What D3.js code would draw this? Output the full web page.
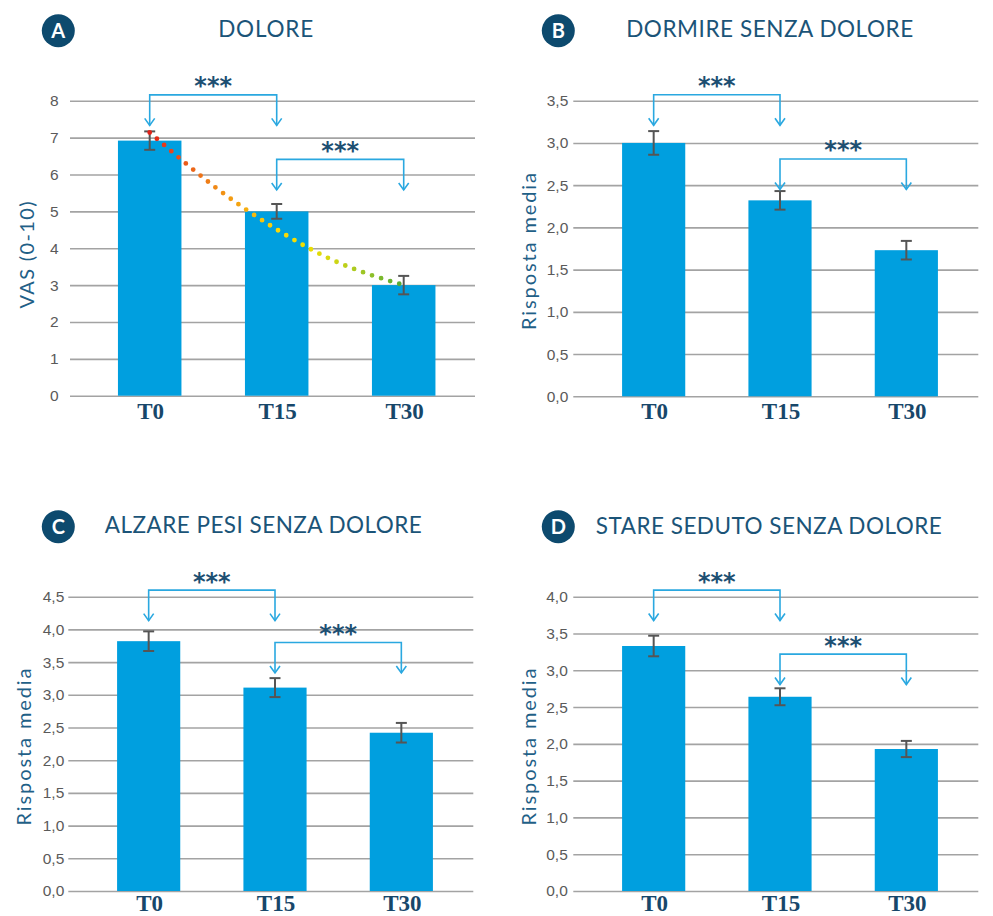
<!DOCTYPE html>
<html><head><meta charset="utf-8">
<script src="https://cdn.jsdelivr.net/npm/d3@7"></script>
<style>html,body{margin:0;padding:0;background:#fff;} svg{display:block}</style>
</head><body>
<svg id="chart" width="993" height="916"></svg>
<script>
// ---------- DATA ----------
const categories = ["T0", "T15", "T30"];

const painMeans   = [6.92, 5.00, 3.00];
const painErrors  = [0.25, 0.20, 0.25];
const sleepMeans  = [3.00, 2.32, 1.73];
const sleepErrors = [0.14, 0.11, 0.11];
const liftMeans   = [3.82, 3.11, 2.42];
const liftErrors  = [0.15, 0.145, 0.15];
const sitMeans    = [3.33, 2.64, 1.93];
const sitErrors   = [0.14, 0.115, 0.11];

const painTicks = [0, 1, 2, 3, 4, 5, 6, 7, 8];
const painTickLabels = ["0", "1", "2", "3", "4", "5", "6", "7", "8"];
const sleepTicks = [0, 0.5, 1, 1.5, 2, 2.5, 3, 3.5];
const sleepTickLabels = ["0,0", "0,5", "1,0", "1,5", "2,0", "2,5", "3,0", "3,5"];
const liftTicks = [0, 0.5, 1, 1.5, 2, 2.5, 3, 3.5, 4, 4.5];
const liftTickLabels = ["0,0", "0,5", "1,0", "1,5", "2,0", "2,5", "3,0", "3,5", "4,0", "4,5"];
const sitTicks = [0, 0.5, 1, 1.5, 2, 2.5, 3, 3.5, 4];
const sitTickLabels = ["0,0", "0,5", "1,0", "1,5", "2,0", "2,5", "3,0", "3,5", "4,0"];

// dotted trend curve of panel A (category position, VAS value)
const painTrendPositions = [0, 0.5, 1, 1.5, 2];
const painTrendValues    = [7.14, 5.70, 4.51, 3.59, 3.00];

// significance brackets (level in data units)
const painBrackets  = [{from: "T0", to: "T15", level: 8.16, label: "***"}, {from: "T15", to: "T30", level: 6.41, label: "***"}];
const sleepBrackets = [{from: "T0", to: "T15", level: 3.57, label: "***"}, {from: "T15", to: "T30", level: 2.81, label: "***"}];
const liftBrackets  = [{from: "T0", to: "T15", level: 4.60, label: "***"}, {from: "T15", to: "T30", level: 3.80, label: "***"}];
const sitBrackets   = [{from: "T0", to: "T15", level: 4.09, label: "***"}, {from: "T15", to: "T30", level: 3.22, label: "***"}];

const panelLetters = ["A", "B", "C", "D"];
const panelTitles = ["DOLORE", "DORMIRE SENZA DOLORE", "ALZARE PESI SENZA DOLORE", "STARE SEDUTO SENZA DOLORE"];
const yAxisTitles = ["VAS (0-10)", "Risposta media", "Risposta media", "Risposta media"];

// ---------- STYLE / LAYOUT ----------
const C = {
  bar: "#009fdf", err: "#555555", grid: "#a3a3a3", tick: "#5a5a5a",
  title: "#1b5478", badge: "#0d4a6e", cat: "#17476a", star: "#1d4f72",
  bracket: "#2aa8e0", axisTitle: "#1f6087"
};

const panels = [
  {means: painMeans, errors: painErrors, ticks: painTicks, tickLabels: painTickLabels, brackets: painBrackets,
   trend: true,
   grid: [70, 475], band: [86.2, 467.2], yr: [395.7, 100.8], tickPad: 11.5,
   titleX: 265.7, titleY: 37, titleW: 95, badge: [58.3, 30.7],
   yTitle: [34, 255], yTitleW: 107, catY: 418.5},
  {means: sleepMeans, errors: sleepErrors, ticks: sleepTicks, tickLabels: sleepTickLabels, brackets: sleepBrackets,
   grid: [573.3, 978.3], band: [590.5, 969.5], yr: [396.3, 100.7], tickPad: 5,
   titleX: 769.7, titleY: 36.5, titleW: 287, badge: [558.3, 30.7],
   yTitle: [536, 251.5], yTitleW: 157, catY: 418.5},
  {means: liftMeans, errors: liftErrors, ticks: liftTicks, tickLabels: liftTickLabels, brackets: liftBrackets,
   grid: [68.3, 473.3], band: [85.5, 464.5], yr: [891, 596.7], tickPad: 4,
   titleX: 263.3, titleY: 533.3, titleW: 317, badge: [58.3, 526.7],
   yTitle: [31, 747], yTitleW: 157, catY: 910.8},
  {means: sitMeans, errors: sitErrors, ticks: sitTicks, tickLabels: sitTickLabels, brackets: sitBrackets,
   grid: [573.3, 978.3], band: [590.5, 969.5], yr: [891, 596.7], tickPad: 5.5,
   titleX: 768.8, titleY: 533.5, titleW: 346, badge: [558.3, 526.7],
   yTitle: [536, 747], yTitleW: 157, catY: 910.8}
];

const svg = d3.select("#chart");
const defs = svg.append("defs");

panels.forEach((p, pi) => {
  const g = svg.append("g");
  const x = d3.scaleBand().domain(categories).range(p.band).paddingInner(0.5).paddingOuter(0.25);
  const ymax = p.ticks[p.ticks.length - 1];
  const y = d3.scaleLinear().domain([0, ymax]).range(p.yr);
  const cx = c => x(c) + x.bandwidth() / 2;

  // badge
  g.append("circle").attr("cx", p.badge[0]).attr("cy", p.badge[1]).attr("r", 16.5).attr("fill", C.badge);
  g.append("text").attr("x", p.badge[0]).attr("y", p.badge[1] + 7)
    .attr("text-anchor", "middle").attr("fill", "#fff")
    .style("font-family", "Lato, 'Noto Sans', sans-serif").style("font-weight", 700).style("font-size", "20px")
    .text(panelLetters[pi]);

  // title
  g.append("text").attr("x", p.titleX).attr("y", p.titleY).attr("text-anchor", "middle")
    .attr("fill", C.title).attr("textLength", p.titleW).attr("lengthAdjust", "spacing")
    .style("font-family", "Lato, 'Noto Sans', sans-serif").style("font-size", "22.5px")
    .text(panelTitles[pi]);

  // grid + tick labels
  const axis = d3.axisLeft(y).tickValues(p.ticks)
    .tickFormat((d, i) => p.tickLabels[i])
    .tickSize(-(p.grid[1] - p.grid[0])).tickPadding(p.tickPad);
  const ag = g.append("g").attr("transform", `translate(${p.grid[0]},0)`).call(axis);
  ag.select(".domain").remove();
  ag.selectAll(".tick line").attr("stroke", C.grid).attr("stroke-width", 1.6);
  ag.selectAll(".tick text").attr("fill", C.tick)
    .style("font-family", "'Liberation Sans', Arial, sans-serif").style("font-size", "15.5px");

  // y axis title
  g.append("text").attr("transform", `translate(${p.yTitle[0]},${p.yTitle[1]}) rotate(-90)`)
    .attr("text-anchor", "middle").attr("fill", C.axisTitle)
    .attr("textLength", p.yTitleW).attr("lengthAdjust", "spacing")
    .style("font-family", "Lato, 'Noto Sans', sans-serif").style("font-size", "20px")
    .text(yAxisTitles[pi]);

  // bars
  g.selectAll("rect.bar").data(categories).join("rect").attr("class", "bar")
    .attr("x", c => x(c)).attr("width", x.bandwidth())
    .attr("y", (c, i) => y(p.means[i])).attr("height", (c, i) => y(0) - y(p.means[i]))
    .attr("fill", C.bar);

  // error bars
  const eg = g.append("g").attr("stroke", C.err).attr("stroke-width", 2).attr("fill", "none");
  categories.forEach((c, i) => {
    const hi = y(p.means[i] + p.errors[i]), lo = y(p.means[i] - p.errors[i]);
    eg.append("line").attr("x1", cx(c)).attr("x2", cx(c)).attr("y1", hi).attr("y2", lo);
    eg.append("line").attr("x1", cx(c) - 5.5).attr("x2", cx(c) + 5.5).attr("y1", hi).attr("y2", hi);
    eg.append("line").attr("x1", cx(c) - 5.5).attr("x2", cx(c) + 5.5).attr("y1", lo).attr("y2", lo);
  });

  // category labels
  g.selectAll("text.cat").data(categories).join("text").attr("class", "cat")
    .attr("x", c => cx(c) + 1).attr("y", p.catY).attr("text-anchor", "middle")
    .attr("fill", C.cat)
    .style("font-family", "'Liberation Serif', 'Times New Roman', serif").style("font-weight", 700).style("font-size", "23px")
    .text(c => c);

  // trend (panel A)
  if (p.trend) {
    const step = x.step();
    const x0 = cx(categories[0]);
    const gid = "trendGrad";
    const grad = defs.append("linearGradient").attr("id", gid).attr("gradientUnits", "userSpaceOnUse")
      .attr("x1", x0).attr("x2", x0 + 2 * step).attr("y1", 0).attr("y2", 0);
    [[0, "#e2231a"], [0.1, "#e84a1b"], [0.25, "#f08616"], [0.38, "#f6ae10"], [0.5, "#fcd709"],
     [0.6, "#f2e000"], [0.72, "#d3d712"], [0.85, "#99c427"], [1, "#4fa836"]]
      .forEach(s => grad.append("stop").attr("offset", s[0]).attr("stop-color", s[1]));
    const line = d3.line().x(d => x0 + d[0] * step).y(d => y(d[1])).curve(d3.curveNatural);
    g.append("path").attr("d", line(painTrendPositions.map((v, i) => [v, painTrendValues[i]])))
      .attr("fill", "none").attr("stroke", `url(#${gid})`).attr("stroke-width", 4.8)
      .attr("stroke-linecap", "round").attr("stroke-dasharray", "0 9.5");
  }

  // brackets
  p.brackets.forEach(b => {
    const xa = cx(b.from), xb = cx(b.to), yt = y(b.level), ytip = yt + 30.5;
    const bg = g.append("g").attr("stroke", C.bracket).attr("stroke-width", 1.6).attr("fill", "none");
    bg.append("path").attr("d", `M${xa},${ytip}V${yt}H${xb}V${ytip}`);
    [xa, xb].forEach(xx => bg.append("path").attr("d", `M${xx - 5},${ytip - 7}L${xx},${ytip}L${xx + 5},${ytip - 7}`));
    g.append("text").attr("x", (xa + xb) / 2).attr("y", yt - 0.5).attr("text-anchor", "middle")
      .attr("fill", C.star)
      .style("font-family", "'DejaVu Sans', sans-serif").style("font-weight", 700).style("font-size", "24px")
      .text(b.label);
  });
});
</script>
</body></html>
